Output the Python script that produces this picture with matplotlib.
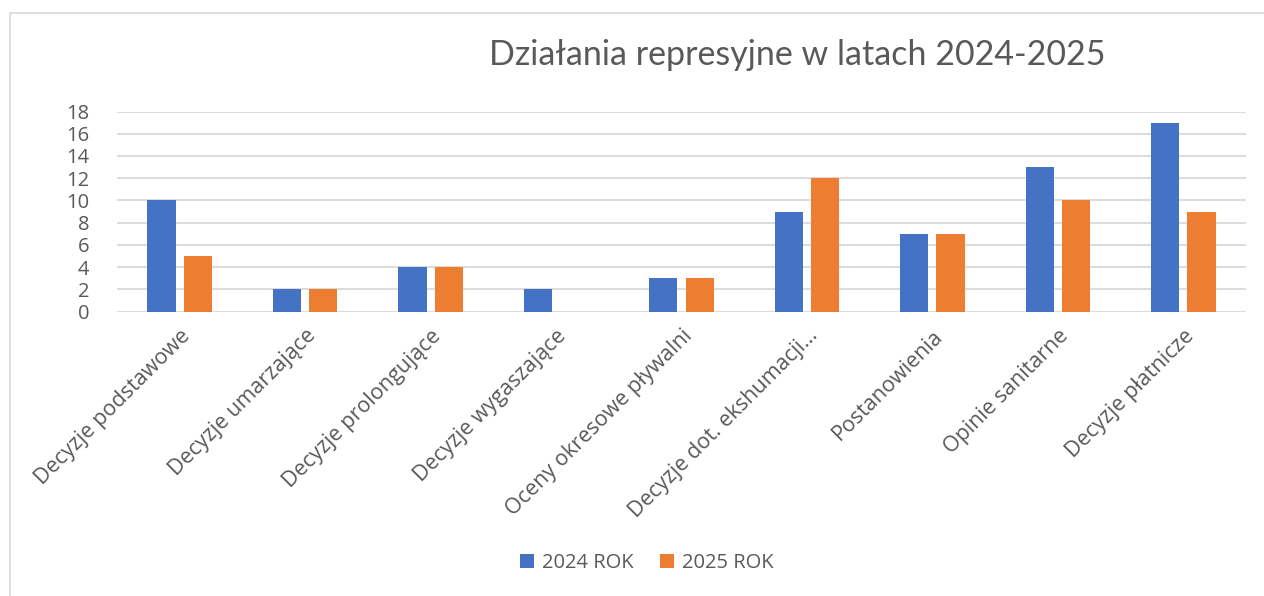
import matplotlib
matplotlib.use("Agg")
import matplotlib.pyplot as plt
import numpy as np
from matplotlib.patches import Rectangle

categories = ["Decyzje podstawowe", "Decyzje umarzające", "Decyzje prolongujące",
              "Decyzje wygaszające", "Oceny okresowe pływalni", "Decyzje dot. ekshumacji…",
              "Postanowienia", "Opinie sanitarne", "Decyzje płatnicze"]
series_names = ["2024 ROK", "2025 ROK"]
values_2024 = [10, 2, 4, 2, 3, 9, 7, 13, 17]
values_2025 = [5, 2, 4, 0, 3, 12, 7, 10, 9]
y_ticks = [0, 2, 4, 6, 8, 10, 12, 14, 16, 18]
title = "Działania represyjne w latach 2024-2025"

TXT = "#595959"
GRID = "#D9D9D9"
C1, C2 = "#4472C4", "#ED7D31"
FONT = ["Open Sans", "DejaVu Sans"]

W, H = 1264, 596
fig = plt.figure(figsize=(W / 100, H / 100), dpi=100)

# outer chart border (only top and left visible)
fig.patches.append(Rectangle((10 / W, -0.1), 1.5, 1 - 13 / H + 0.1, transform=fig.transFigure,
                             fill=False, edgecolor=GRID, lw=1.2))

ax = fig.add_axes([117 / W, 1 - 311.5 / H, (1246 - 117) / W, 200 / H])
x = np.arange(len(categories))
bw = 0.225
off = 0.145
ax.bar(x - off, values_2024, bw, color=C1, label=series_names[0], zorder=3)
ax.bar(x + off, values_2025, bw, color=C2, label=series_names[1], zorder=3)

ax.set_xlim(-0.5, len(categories) - 0.5)
ax.set_ylim(0, 18)
ax.set_yticks(y_ticks)
ax.set_yticklabels([str(v) for v in y_ticks], fontsize=14.5, color=TXT, family=FONT)
ax.yaxis.grid(True, color=GRID, lw=1.3, zorder=0)
ax.set_axisbelow(True)
for s in ax.spines.values():
    s.set_visible(False)
ax.tick_params(axis="both", length=0)
ax.tick_params(axis="y", pad=20)
ax.set_xticks(x)
ax.set_xticklabels(categories, rotation=45, ha="right", rotation_mode="anchor",
                   fontsize=15.5, color=TXT, family=FONT)
ax.tick_params(axis="x", pad=10)

fig.text(797 / W, 1 - 55 / H, title, ha="center", va="center", fontsize=24.5,
         color=TXT, family=["Lato", "DejaVu Sans"])

leg = fig.legend(loc="center", bbox_to_anchor=(647 / W, 1 - 563 / H), ncol=2,
                 frameon=False, prop={"family": FONT, "size": 14.5},
                 handlelength=0.7, handleheight=0.7, handletextpad=0.4, columnspacing=1.3)
for t in leg.get_texts():
    t.set_color(TXT)

fig.savefig("out.png", dpi=100)
